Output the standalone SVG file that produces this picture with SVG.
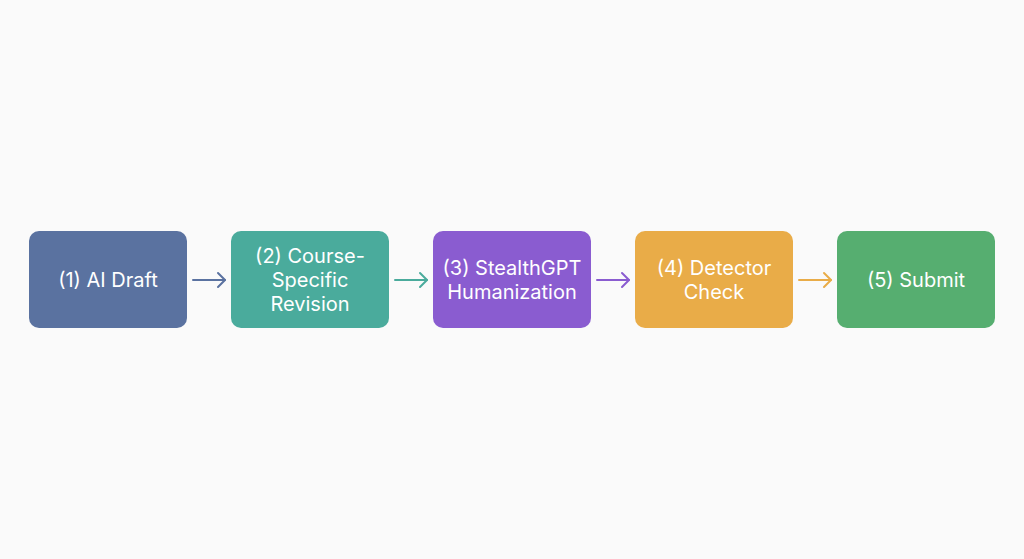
<svg xmlns="http://www.w3.org/2000/svg" width="1024" height="559" viewBox="0 0 1024 559">
<defs>
<style>
.box{stroke:none}
.t{font-family:Inter,"Liberation Sans",sans-serif;font-size:20px;fill:#ffffff;text-anchor:middle;dominant-baseline:central}
.c{fill:none;stroke-width:2;stroke-linecap:round;stroke-linejoin:round}
</style>
</defs>
<rect width="1024" height="559" fill="#fafafa"/>
<g id="connectors">
<g class="c" stroke="#5a72a0"><path d="M193 280H225"/><path d="M218 273L225 280L218 287"/></g>
<g class="c" stroke="#4aab9c"><path d="M395 280H427"/><path d="M420 273L427 280L420 287"/></g>
<g class="c" stroke="#8a5cd0"><path d="M597 280H629"/><path d="M622 273L629 280L622 287"/></g>
<g class="c" stroke="#e9ac48"><path d="M799 280H831"/><path d="M824 273L831 280L824 287"/></g>
</g>
<g id="node1"><rect class="box" x="29" y="231" width="158" height="97" rx="10" fill="#5a72a0"/><text class="t" x="108" y="280">(1) AI Draft</text></g>
<g id="node2"><rect class="box" x="231" y="231" width="158" height="97" rx="10" fill="#4aab9c"/><text class="t" x="310" y="256">(2) Course-</text><text class="t" x="310" y="280">Specific</text><text class="t" x="310" y="304">Revision</text></g>
<g id="node3"><rect class="box" x="433" y="231" width="158" height="97" rx="10" fill="#8a5cd0"/><text class="t" x="512" y="268">(3) StealthGPT</text><text class="t" x="512" y="292">Humanization</text></g>
<g id="node4"><rect class="box" x="635" y="231" width="158" height="97" rx="10" fill="#e9ac48"/><text class="t" x="714" y="268">(4) Detector</text><text class="t" x="714" y="292">Check</text></g>
<g id="node5"><rect class="box" x="837" y="231" width="158" height="97" rx="10" fill="#56ae70"/><text class="t" x="916" y="280">(5) Submit</text></g>
</svg>
